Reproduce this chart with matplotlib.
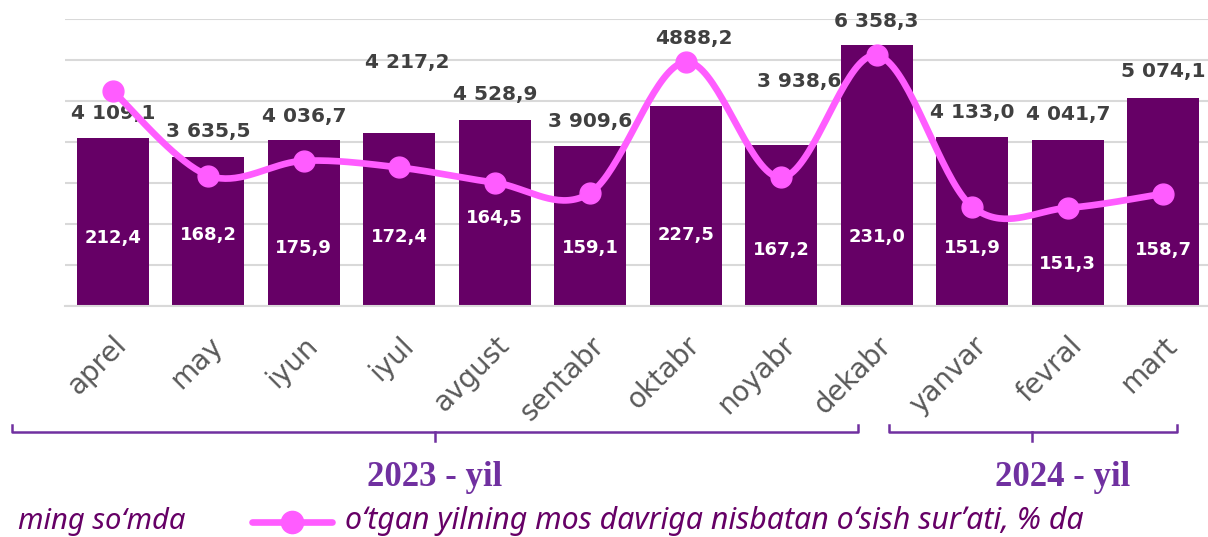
import matplotlib
matplotlib.use("Agg")
import matplotlib.pyplot as plt
from matplotlib.lines import Line2D
import numpy as np

# ---------------- data ----------------
months = ["aprel", "may", "iyun", "iyul", "avgust", "sentabr", "oktabr",
          "noyabr", "dekabr", "yanvar", "fevral", "mart"]
income = [4109.1, 3635.5, 4036.7, 4217.2, 4528.9, 3909.6, 4888.2,
          3938.6, 6358.3, 4133.0, 4041.7, 5074.1]
income_labels = ["4 109,1", "3 635,5", "4 036,7", "4 217,2", "4 528,9", "3 909,6",
                 "4888,2", "3 938,6", "6 358,3", "4 133,0", "4 041,7", "5 074,1"]
growth = [212.4, 168.2, 175.9, 172.4, 164.5, 159.1, 227.5,
          167.2, 231.0, 151.9, 151.3, 158.7]
growth_labels = ["212,4", "168,2", "175,9", "172,4", "164,5", "159,1", "227,5",
                 "167,2", "231,0", "151,9", "151,3", "158,7"]
year_labels = ["2023 - yil", "2024 - yil"]
legend_unit = "ming soʻmda"
legend_line = "oʻtgan yilning mos davriga nisbatan oʻsish surʼati, % da"

# ---------------- layout / style ----------------
W, H = 1208, 537
BAR_COLOR = "#660066"
LINE_COLOR = "#FF5CFF"
BRACKET_COLOR = "#7030A0"
GRID_COLOR = "#D9D9D9"

# label placement tweaks (pixels): (dx, dy above bar top)
bar_label_offsets = [(0, 24), (0, 25), (0, 24), (8, 71), (0, 26), (0, 24),
                     (8, 67), (18, 63), (0, 24), (0, 24), (0, 26), (0, 26)]
# white label heights inside bars (bar axis units)
inner_label_y = [1659, 1732, 1415, 1683, 2146, 1415, 1732, 1366, 1683, 1415, 1024, 1366]

fig = plt.figure(figsize=(W / 100, H / 100), dpi=100)


def fx(x):
    return x / W


def fy(y):
    return 1 - y / H


ax = fig.add_axes([fx(65), fy(306), (1211 - 65) / W, 287 / H])
ax2 = ax.twinx()

x = np.arange(len(months))
ax.bar(x, income, width=0.755, color=BAR_COLOR, zorder=2)
ax.set_ylim(0, 7000)
ax.set_xlim(-0.5, 11.5)
ax.set_yticks(np.arange(0, 7001, 1000))
ax.yaxis.grid(True, color=GRID_COLOR, linewidth=1.5, zorder=0)
ax.set_axisbelow(True)
ax.tick_params(axis="y", left=False, labelleft=False)
for s in ["top", "right", "left"]:
    ax.spines[s].set_visible(False)
ax.spines["bottom"].set_color(GRID_COLOR)
ax.spines["bottom"].set_linewidth(1.5)

ax.set_xticks(x)
ax.set_xticklabels(months, rotation=45, ha="right", rotation_mode="anchor",
                   fontsize=20, color="#595959")
ax.tick_params(axis="x", length=0, pad=18)

# bar value labels
for i, (v, lab) in enumerate(zip(income, income_labels)):
    dx, dy = bar_label_offsets[i]
    ax.annotate(lab, (i, v), xytext=(dx, dy), textcoords="offset pixels",
                ha="center", va="center", fontsize=14.5, fontweight="bold",
                color="#404040", annotation_clip=False, zorder=5)

# inner growth labels
for i, lab in enumerate(growth_labels):
    ax.text(i, inner_label_y[i], lab, ha="center", va="center", fontsize=13,
            fontweight="bold", color="white", zorder=5)

# secondary axis: smooth line
ax2.set_ylim(100, 250)
ax2.set_xlim(-0.5, 11.5)
ax2.axis("off")

fig.canvas.draw()
pts = ax2.transData.transform(np.column_stack([x, growth]))
P = np.vstack([pts[0], pts, pts[-1]])
curve = []
t = np.linspace(0, 1, 40)
for k in range(1, len(P) - 2):
    p0, p1, p2, p3 = P[k - 1], P[k], P[k + 1], P[k + 2]
    c1 = p1 + (p2 - p0) / 6
    c2 = p2 - (p3 - p1) / 6
    seg = ((1 - t) ** 3)[:, None] * p1 + (3 * (1 - t) ** 2 * t)[:, None] * c1 \
        + (3 * (1 - t) * t ** 2)[:, None] * c2 + (t ** 3)[:, None] * p2
    curve.append(seg)
curve = np.vstack(curve)
cd = ax2.transData.inverted().transform(curve)
ax2.plot(cd[:, 0], cd[:, 1], color=LINE_COLOR, linewidth=4.8,
         solid_capstyle="round", zorder=3, clip_on=False)
ax2.plot(x, growth, linestyle="none", marker="o", markersize=15,
         color=LINE_COLOR, zorder=4, clip_on=False)

# year brackets
def bracket(x0, x1, xc, y=432, up=7, down=9):
    fig.add_artist(Line2D([fx(x0), fx(x0), fx(x1), fx(x1)],
                          [fy(y - up), fy(y), fy(y), fy(y - up)],
                          color=BRACKET_COLOR, linewidth=1.8,
                          transform=fig.transFigure))
    fig.add_artist(Line2D([fx(xc), fx(xc)], [fy(y), fy(y + down)],
                          color=BRACKET_COLOR, linewidth=1.8,
                          transform=fig.transFigure))


bracket(12, 858, 435)
bracket(889, 1177, 1032)
fig.text(fx(435), fy(477), year_labels[0], ha="center", va="center",
         fontsize=25, fontweight="bold", family="Liberation Serif",
         color=BRACKET_COLOR)
fig.text(fx(1063), fy(477), year_labels[1], ha="center", va="center",
         fontsize=25, fontweight="bold", family="Liberation Serif",
         color=BRACKET_COLOR)

# bottom legend
fig.text(fx(18), fy(522), legend_unit, ha="left", va="center", fontsize=21,
         style="italic", family=["Noto Sans", "DejaVu Sans"], color=BAR_COLOR)
fig.add_artist(Line2D([fx(252), fx(332)], [fy(522), fy(522)], color=LINE_COLOR,
                      linewidth=4.8, solid_capstyle="round",
                      transform=fig.transFigure))
fig.add_artist(Line2D([fx(292)], [fy(522)], marker="o", markersize=16,
                      color=LINE_COLOR, transform=fig.transFigure))
fig.text(fx(345), fy(521), legend_line, ha="left", va="center", fontsize=21.8,
         style="italic", family=["Noto Sans", "DejaVu Sans"], color=BAR_COLOR)

fig.savefig("out.png", dpi=100)
